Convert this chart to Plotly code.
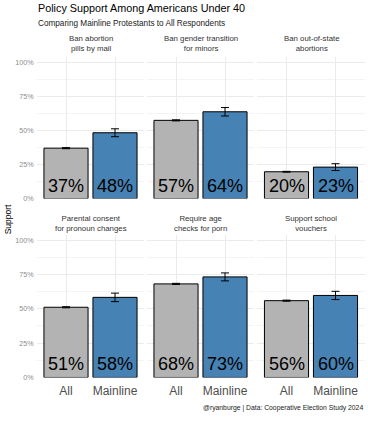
import plotly.graph_objects as go

# ---- data ----
policies = [
    "Ban abortion<br>pills by mail",
    "Ban gender transition<br>for minors",
    "Ban out-of-state<br>abortions",
    "Parental consent<br>for pronoun changes",
    "Require age<br>checks for porn",
    "Support school<br>vouchers",
]
groups = ["All", "Mainline"]
all_vals = [0.370, 0.574, 0.197, 0.511, 0.681, 0.559]
mainline_vals = [0.483, 0.637, 0.231, 0.583, 0.732, 0.597]
all_err = [0.004, 0.004, 0.003, 0.004, 0.004, 0.004]
mainline_err = [0.029, 0.031, 0.025, 0.031, 0.029, 0.030]
y_ticks = [0, 0.25, 0.5, 0.75, 1.0]
y_ticklabels = ["0%", "25%", "50%", "75%", "100%"]

# ---- style ----
FONT = "Liberation Sans, Arial, sans-serif"
GRAY = "#B3B3B3"
BLUE = "#4682B4"
W, H = 368, 421

x_domains = [(36.6 / W, 144.4 / W), (146.6 / W, 254.4 / W), (257.1 / W, 364.9 / W)]
y_domains = [(1 - 201 / H, 1 - 57.5 / H), (1 - 382 / H, 1 - 237.4 / H)]
strip_y = [1 - 44.5 / H, 1 - 226.5 / H]

fig = go.Figure()
annotations = []

for i, pol in enumerate(policies):
    r, c = divmod(i, 3)
    n = i + 1
    xa = "x" if n == 1 else f"x{n}"
    ya = "y" if n == 1 else f"y{n}"
    vals = [all_vals[i], mainline_vals[i]]
    errs = [all_err[i], mainline_err[i]]
    fig.add_trace(go.Bar(
        x=groups, y=vals, width=0.9,
        marker=dict(color=[GRAY, BLUE], line=dict(color="black", width=1)),
        error_y=dict(type="data", array=errs, visible=True, color="black",
                     thickness=1, width=4),
        xaxis=xa, yaxis=ya, showlegend=False, hoverinfo="skip",
    ))
    for g, v in zip(groups, vals):
        annotations.append(dict(
            x=g, y=0, xref=xa, yref=ya, text=f"{v*100:.0f}%",
            showarrow=False, yanchor="bottom", xanchor="center", yshift=1,
            font=dict(family=FONT, size=18, color="black"),
        ))
    xd = x_domains[c]
    annotations.append(dict(
        x=(xd[0] + xd[1]) / 2, y=strip_y[r], xref="paper", yref="paper",
        text=pol, showarrow=False, xanchor="center", yanchor="middle",
        font=dict(family=FONT, size=7.8, color="#333333"),
    ))
    axkey = "xaxis" if n == 1 else f"xaxis{n}"
    aykey = "yaxis" if n == 1 else f"yaxis{n}"
    fig.update_layout({
        axkey: dict(
            domain=list(xd), anchor=ya, type="category",
            range=[-0.6, 1.6], showgrid=True, gridcolor="#EBEBEB", gridwidth=1,
            showticklabels=(r == 1), ticks="", showline=False, zeroline=False,
            tickfont=dict(family=FONT, size=12, color="#4D4D4D"),
            ticklabelstandoff=5,
        ),
        aykey: dict(
            domain=list(y_domains[r]), anchor=xa, range=[0, 1.04],
            tickvals=y_ticks, ticktext=y_ticklabels,
            showticklabels=(c == 0), ticks="", showline=False, zeroline=False,
            showgrid=True, gridcolor="#EBEBEB", gridwidth=1,
            minor=dict(dtick=0.125, tick0=0, showgrid=True,
                       gridcolor="#F4F4F4", gridwidth=0.6),
            tickfont=dict(family=FONT, size=7.2, color="#8C8C8C"),
            ticklabelstandoff=2,
        ),
    })

# titles / caption
annotations += [
    dict(x=36 / W, y=1 - 8.5 / H, xref="paper", yref="paper", xanchor="left",
         yanchor="middle", showarrow=False, text="Policy Support Among Americans Under 40",
         font=dict(family=FONT, size=10.8, color="black")),
    dict(x=36 / W, y=1 - 23.5 / H, xref="paper", yref="paper", xanchor="left",
         yanchor="middle", showarrow=False, text="Comparing Mainline Protestants to All Respondents",
         font=dict(family=FONT, size=8.2, color="#1A1A1A")),
    dict(x=8 / W, y=1 - 222 / H, xref="paper", yref="paper", xanchor="center",
         yanchor="middle", showarrow=False, text="Support", textangle=-90,
         font=dict(family=FONT, size=8.5, color="black")),
    dict(x=365 / W, y=1 - 413 / H, xref="paper", yref="paper", xanchor="right",
         yanchor="middle", showarrow=False,
         text="@ryanburge | Data: Cooperative Election Study 2024",
         font=dict(family=FONT, size=6.8, color="#1A1A1A")),
]

fig.update_layout(
    width=W, height=H, margin=dict(l=0, r=0, t=0, b=0),
    paper_bgcolor="white", plot_bgcolor="white",
    annotations=annotations, bargap=0.1,
    font=dict(family=FONT),
)

fig.write_html(
    "out.html",
    config={"displayModeBar": False},
    post_script="document.body.style.margin='0';document.body.style.overflow='hidden';",
)
